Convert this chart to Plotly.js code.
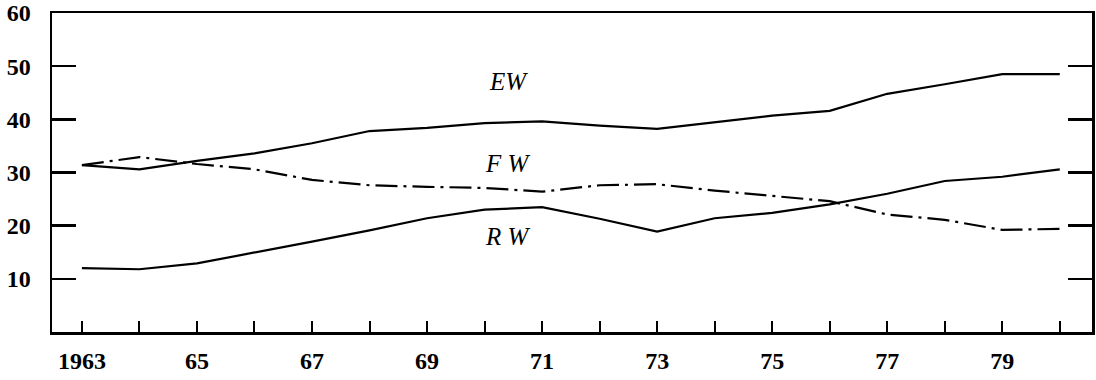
<!DOCTYPE html>
<html>
<head>
<meta charset="utf-8">
<script src="https://cdn.plot.ly/plotly-3.0.1.min.js"></script>
<style>html,body{margin:0;padding:0;background:#fff;}#chart{width:1096px;height:380px;}</style>
</head>
<body>
<div id="chart"></div>
<script>
const years = [1963,1964,1965,1966,1967,1968,1969,1970,1971,1972,1973,1974,1975,1976,1977,1978,1979,1980];
const EW = [31.4,30.6,32.2,33.6,35.5,37.8,38.4,39.3,39.6,38.8,38.2,39.4,40.7,41.6,44.8,46.6,48.5,48.5];
const FW = [31.4,32.9,31.6,30.6,28.6,27.6,27.3,27.1,26.4,27.6,27.8,26.6,25.6,24.6,22.1,21.1,19.2,19.4];
const RW = [12.0,11.8,12.9,14.9,17.0,19.1,21.4,23.0,23.5,21.3,18.9,21.4,22.4,24.0,26.0,28.4,29.2,30.6];
const xTickVals = years;
const xTickText = ['1963','','65','','67','','69','','71','','73','','75','','77','','79',''];
const yTickVals = [10,20,30,40,50,60];
const labels = [
  {text:'EW', x:1970.42, y:47.1},
  {text:'F W', x:1970.4, y:31.7},
  {text:'R W', x:1970.4, y:18.0}
];

const lineStyle = {color:'#000', width:2.2};
const traces = [
  {x:years, y:EW, mode:'lines', line:Object.assign({}, lineStyle), name:'EW'},
  {x:years, y:FW, mode:'lines', line:Object.assign({}, lineStyle, {dash:'22px,6px,3px,6px'}), name:'FW'},
  {x:years, y:RW, mode:'lines', line:Object.assign({}, lineStyle), name:'RW'}
];

const tickFont = {family:'"Liberation Serif", serif', size:24, color:'#000', weight:'bold'};
const layout = {
  width:1096, height:380,
  margin:{l:52, r:4, t:13, b:48},
  paper_bgcolor:'#fff', plot_bgcolor:'#fff',
  showlegend:false,
  font:{family:'"Liberation Serif", serif', size:24, color:'#000'},
  xaxis:{
    range:[1962.48, 1980.56],
    tickmode:'array', tickvals:xTickVals, ticktext:xTickText,
    ticks:'inside', ticklen:11, tickwidth:2, tickcolor:'#000',
    showline:true, linecolor:'#000', linewidth:2.5, mirror:true,
    showgrid:false, zeroline:false,
    tickfont:tickFont, ticklabelstandoff:6
  },
  yaxis:{
    range:[0,60],
    tickmode:'array', tickvals:yTickVals,
    ticks:'inside', ticklen:24, tickwidth:2.5, tickcolor:'#000',
    showline:true, linecolor:'#000', linewidth:2.5, mirror:'ticks',
    showgrid:false, zeroline:false,
    tickfont:tickFont, ticklabelstandoff:14
  },
  annotations: labels.map(l => ({
    x:l.x, y:l.y, xref:'x', yref:'y', text:'<i>'+l.text+'</i>', showarrow:false,
    font:{family:'"Liberation Serif", serif', size:25, color:'#000'}
  }))
};
Plotly.newPlot('chart', traces, layout, {staticPlot:true, displayModeBar:false});
</script>
</body>
</html>
